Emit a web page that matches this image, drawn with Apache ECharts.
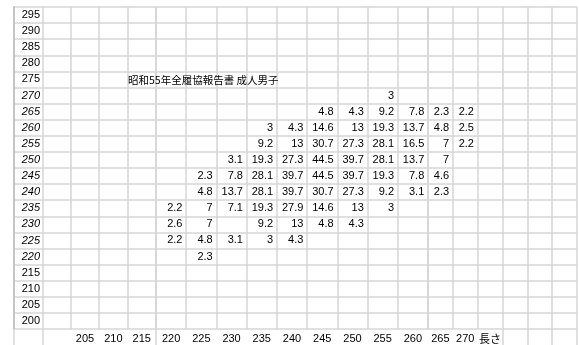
<!DOCTYPE html>
<html>
<head>
<meta charset="utf-8">
<script src="https://cdn.jsdelivr.net/npm/echarts@6/dist/echarts.min.js"></script>
<style>
  html, body { margin: 0; padding: 0; background: #fff; }
  #chart { width: 579px; height: 345px; }
</style>
</head>
<body>
<div id="chart"></div>
<script>
// Foot length (mm) columns and foot girth (mm) rows
const lengths = ['205', '210', '215', '220', '225', '230', '235', '240', '245', '250', '255', '260', '265', '270'];
const girths = ['295', '290', '285', '280', '275', '270', '265', '260', '255', '250', '245', '240', '235', '230', '225', '220', '215', '210', '205', '200'];
const lengthUnit = '長さ';
const reportTitle = '昭和55年全履協報告書 成人男子';

// Share (‰) per girth row, one entry per length column; null = empty cell
const row270 = [null, null, null, null, null, null, null, null, null, null, 3, null, null, null];
const row265 = [null, null, null, null, null, null, null, null, 4.8, 4.3, 9.2, 7.8, 2.3, 2.2];
const row260 = [null, null, null, null, null, null, 3, 4.3, 14.6, 13, 19.3, 13.7, 4.8, 2.5];
const row255 = [null, null, null, null, null, null, 9.2, 13, 30.7, 27.3, 28.1, 16.5, 7, 2.2];
const row250 = [null, null, null, null, null, 3.1, 19.3, 27.3, 44.5, 39.7, 28.1, 13.7, 7, null];
const row245 = [null, null, null, null, 2.3, 7.8, 28.1, 39.7, 44.5, 39.7, 19.3, 7.8, 4.6, null];
const row240 = [null, null, null, null, 4.8, 13.7, 28.1, 39.7, 30.7, 27.3, 9.2, 3.1, 2.3, null];
const row235 = [null, null, null, 2.2, 7, 7.1, 19.3, 27.9, 14.6, 13, 3, null, null, null];
const row230 = [null, null, null, 2.6, 7, null, 9.2, 13, 4.8, 4.3, null, null, null, null];
const row225 = [null, null, null, 2.2, 4.8, 3.1, 3, 4.3, null, null, null, null, null, null];
const row220 = [null, null, null, null, 2.3, null, null, null, null, null, null, null, null, null];

const rowsByGirth = {
  '270': row270, '265': row265, '260': row260, '255': row255, '250': row250,
  '245': row245, '240': row240, '235': row235, '230': row230, '225': row225, '220': row220
};

// Sheet columns are split into three blocks of equal-width cells
const blocks = [
  { cols: ['', '', '205', '210', '215'], left: 14, width: 142, footLines: i => i <= 1 },
  { cols: ['220', '225', '230', '235', '240', '245', '250', '255', '260'], left: 156, width: 272, footLines: () => false },
  { cols: ['265', '270', lengthUnit, ' ', '  ', '   '], left: 428, width: 149, footLines: i => i >= 3 }
];

const TOP = 7, HEIGHT = 322;
const LINE = '#d6d6d6';
const NUM_FONT = "'Liberation Sans', Arial, sans-serif";
const CJK_FONT = "'Noto Sans CJK JP', sans-serif";
const FS = 11;

function cellsFor(cols) {
  const out = [];
  cols.forEach((c, xi) => {
    const li = lengths.indexOf(c);
    if (li < 0) return;
    girths.forEach((g, yi) => {
      const row = rowsByGirth[g];
      if (row && row[li] != null) out.push([xi, yi, row[li]]);
    });
  });
  return out;
}

const grid = [], xAxis = [], yAxis = [], series = [];
blocks.forEach((b, i) => {
  grid.push({ left: b.left, top: TOP, width: b.width, height: HEIGHT, containLabel: false });
  xAxis.push({
    type: 'category', gridIndex: i, data: b.cols, position: 'bottom',
    axisLine: { show: false },
    // cell borders continuing through the heading row
    axisTick: { show: true, inside: false, length: 16, interval: b.footLines, lineStyle: { color: LINE, width: 1.5 } },
    splitLine: { show: true, lineStyle: { color: LINE, width: 1.5 } },
    axisLabel: {
      interval: 0, margin: 4, color: '#000', fontSize: FS,
      fontFamily: NUM_FONT,
      formatter: v => v.trim() === '' ? '' : (v === lengthUnit ? '{j|' + v + '}' : v),
      rich: { j: { fontFamily: CJK_FONT, fontSize: 11, color: '#000' } }
    }
  });
  yAxis.push({
    type: 'category', gridIndex: i, data: girths, inverse: true,
    axisLine: i === 0 ? { show: true, lineStyle: { color: '#c4c4c4', width: 2 } } : { show: false },
    axisTick: { show: false },
    splitLine: { show: true, lineStyle: { color: LINE, width: 1.5 } },
    axisLabel: i === 0 ? {
      show: true, inside: true, align: 'right', margin: 26, interval: 0,
      color: '#000', fontSize: FS, fontFamily: NUM_FONT,
      // rows holding figures are set in italics
      formatter: v => rowsByGirth[v] ? '{i|' + v + '}' : v,
      rich: { i: { fontStyle: 'italic', fontFamily: NUM_FONT, fontSize: FS, color: '#000' } }
    } : { show: false }
  });
  series.push({
    type: 'heatmap', xAxisIndex: i, yAxisIndex: i,
    data: cellsFor(b.cols),
    itemStyle: { color: 'rgba(0,0,0,0)' },
    emphasis: { disabled: true },
    label: {
      show: true, position: 'insideRight', distance: 4,
      color: '#000', fontSize: FS, fontFamily: NUM_FONT,
      formatter: p => String(p.value[2])
    }
  });
});

const chart = echarts.init(document.getElementById('chart'), null, { renderer: 'canvas' });
chart.setOption({
  animation: false,
  backgroundColor: '#fff',
  title: {
    text: reportTitle, left: 128, top: 72, padding: 0,
    textStyle: { fontFamily: CJK_FONT, fontSize: 10.5, fontWeight: 'normal', color: '#000', lineHeight: 16 }
  },
  grid, xAxis, yAxis, series
});
</script>
</body>
</html>
